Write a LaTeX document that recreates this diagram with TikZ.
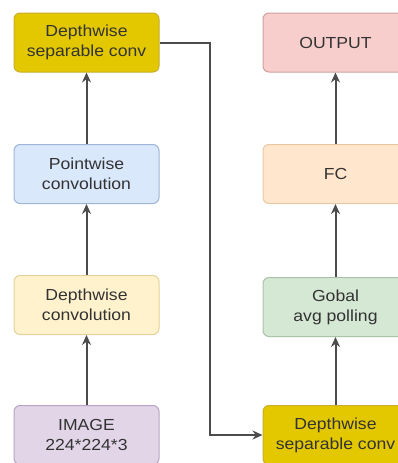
\documentclass[tikz,border=0pt]{standalone}
\usepackage{fontspec}
\setmainfont{Liberation Sans}[FakeStretch=1.1]
\usetikzlibrary{arrows.meta}
\definecolor{goldfill}{HTML}{E3C800}
\definecolor{goldline}{HTML}{C9AE2A}
\definecolor{bluefill}{HTML}{DAE8FC}
\definecolor{blueline}{HTML}{9FB4D6}
\definecolor{creamfill}{HTML}{FFF2CC}
\definecolor{creamline}{HTML}{E3D29A}
\definecolor{lilacfill}{HTML}{E1D5E7}
\definecolor{lilacline}{HTML}{B9A4C4}
\definecolor{pinkfill}{HTML}{F8CECC}
\definecolor{pinkline}{HTML}{CFA09E}
\definecolor{peachfill}{HTML}{FFE6CC}
\definecolor{peachline}{HTML}{E8C9A4}
\definecolor{mintfill}{HTML}{D5E8D4}
\definecolor{mintline}{HTML}{A9C3A7}

\begin{document}
\begin{tikzpicture}[x=1pt,y=-1pt,
  box/.style={draw, rounded corners=6pt, line width=1pt, minimum width=145pt,
    minimum height=59pt, align=center, text=black!80,
    font=\fontsize{16}{20}\selectfont},
  flow/.style={draw=black!70, line width=2pt, -{Stealth[length=10pt,width=9pt]}}]
\useasboundingbox (0,0) rectangle (398,463);
\node[box, fill=goldfill, draw=goldline] (dscA) at (86.5,42.5) {Depthwise\\separable conv};
\node[box, fill=bluefill, draw=blueline] (pwc) at (86.5,174) {Pointwise\\convolution};
\node[box, fill=creamfill, draw=creamline] (dwc) at (86.5,305) {Depthwise\\convolution};
\node[box, fill=lilacfill, draw=lilacline] (img) at (86.5,435) {IMAGE\\224*224*3};
\node[box, fill=pinkfill, draw=pinkline] (out) at (335.5,42.5) {OUTPUT};
\node[box, fill=peachfill, draw=peachline] (fc) at (335.5,174) {FC};
\node[box, fill=mintfill, draw=mintline] (gap) at (335.5,307) {Gobal\\avg polling};
\node[box, fill=goldfill, draw=goldline] (dscB) at (335.5,435) {Depthwise\\separable conv};
\coordinate (turn) at (210,435);
\draw[flow] (img) -- (dwc);
\draw[flow] (dwc) -- (pwc);
\draw[flow] (pwc) -- (dscA);
\draw[flow] (dscA.east) -| (turn) -- (dscB.west);
\draw[flow] (dscB) -- (gap);
\draw[flow] (gap) -- (fc);
\draw[flow] (fc) -- (out);
\end{tikzpicture}
\end{document}
